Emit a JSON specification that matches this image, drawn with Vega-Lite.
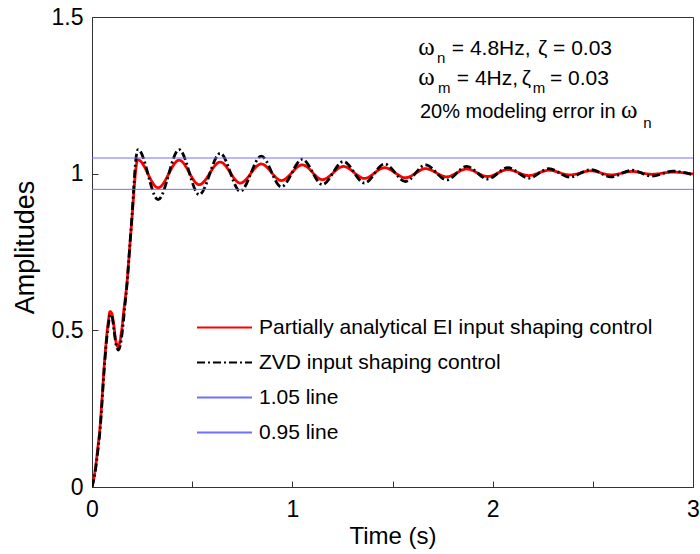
{
  "$schema": "https://vega.github.io/schema/vega-lite/v6.json",
  "width": 601,
  "height": 470,
  "autosize": {"type": "none"},
  "padding": {"left": 92, "top": 17, "right": 7, "bottom": 67},
  "background": "white",
  "config": {
    "font": "Liberation Sans",
    "view": {"stroke": "#333333", "strokeWidth": 1},
    "axis": {
      "grid": false,
      "domainColor": "#333333",
      "tickColor": "#333333",
      "labelColor": "#000000",
      "titleColor": "#000000",
      "labelFont": "Liberation Sans",
      "titleFont": "Liberation Sans",
      "titleFontWeight": "normal",
      "labelFontSize": 23,
      "tickSize": -6
    }
  },
  "layer": [
    {
      "data": {
        "values": [
          {"t": 0, "v": 0, "s": "Partially analytical EI input shaping control"},
          {"t": 0.015, "v": 0.05, "s": "Partially analytical EI input shaping control"},
          {"t": 0.03, "v": 0.13, "s": "Partially analytical EI input shaping control"},
          {"t": 0.04, "v": 0.19, "s": "Partially analytical EI input shaping control"},
          {"t": 0.05, "v": 0.28, "s": "Partially analytical EI input shaping control"},
          {"t": 0.057, "v": 0.35, "s": "Partially analytical EI input shaping control"},
          {"t": 0.065, "v": 0.42, "s": "Partially analytical EI input shaping control"},
          {"t": 0.073, "v": 0.48, "s": "Partially analytical EI input shaping control"},
          {"t": 0.082, "v": 0.53, "s": "Partially analytical EI input shaping control"},
          {"t": 0.09, "v": 0.56, "s": "Partially analytical EI input shaping control"},
          {"t": 0.098, "v": 0.555, "s": "Partially analytical EI input shaping control"},
          {"t": 0.108, "v": 0.52, "s": "Partially analytical EI input shaping control"},
          {"t": 0.118, "v": 0.47, "s": "Partially analytical EI input shaping control"},
          {"t": 0.128, "v": 0.448, "s": "Partially analytical EI input shaping control"},
          {"t": 0.138, "v": 0.46, "s": "Partially analytical EI input shaping control"},
          {"t": 0.148, "v": 0.5, "s": "Partially analytical EI input shaping control"},
          {"t": 0.16, "v": 0.57, "s": "Partially analytical EI input shaping control"},
          {"t": 0.173, "v": 0.64, "s": "Partially analytical EI input shaping control"},
          {"t": 0.19, "v": 0.78, "s": "Partially analytical EI input shaping control"},
          {"t": 0.2, "v": 0.86, "s": "Partially analytical EI input shaping control"},
          {"t": 0.21, "v": 0.95, "s": "Partially analytical EI input shaping control"},
          {"t": 0.218, "v": 1.01, "s": "Partially analytical EI input shaping control"},
          {"t": 0.228, "v": 1.045, "s": "Partially analytical EI input shaping control"},
          {"t": 0.33, "v": 0.955, "s": "Partially analytical EI input shaping control"},
          {"t": 0.435, "v": 1.043, "s": "Partially analytical EI input shaping control"},
          {"t": 0.535, "v": 0.965, "s": "Partially analytical EI input shaping control"},
          {"t": 0.64, "v": 1.037, "s": "Partially analytical EI input shaping control"},
          {"t": 0.74, "v": 0.97, "s": "Partially analytical EI input shaping control"},
          {"t": 0.845, "v": 1.031, "s": "Partially analytical EI input shaping control"},
          {"t": 0.945, "v": 0.978, "s": "Partially analytical EI input shaping control"},
          {"t": 1.05, "v": 1.028, "s": "Partially analytical EI input shaping control"},
          {"t": 1.15, "v": 0.981, "s": "Partially analytical EI input shaping control"},
          {"t": 1.255, "v": 1.023, "s": "Partially analytical EI input shaping control"},
          {"t": 1.36, "v": 0.985, "s": "Partially analytical EI input shaping control"},
          {"t": 1.46, "v": 1.019, "s": "Partially analytical EI input shaping control"},
          {"t": 1.565, "v": 0.987, "s": "Partially analytical EI input shaping control"},
          {"t": 1.665, "v": 1.016, "s": "Partially analytical EI input shaping control"},
          {"t": 1.77, "v": 0.99, "s": "Partially analytical EI input shaping control"},
          {"t": 1.87, "v": 1.015, "s": "Partially analytical EI input shaping control"},
          {"t": 1.975, "v": 0.991, "s": "Partially analytical EI input shaping control"},
          {"t": 2.075, "v": 1.013, "s": "Partially analytical EI input shaping control"},
          {"t": 2.18, "v": 0.994, "s": "Partially analytical EI input shaping control"},
          {"t": 2.28, "v": 1.011, "s": "Partially analytical EI input shaping control"},
          {"t": 2.385, "v": 0.996, "s": "Partially analytical EI input shaping control"},
          {"t": 2.49, "v": 1.009, "s": "Partially analytical EI input shaping control"},
          {"t": 2.59, "v": 0.996, "s": "Partially analytical EI input shaping control"},
          {"t": 2.695, "v": 1.007, "s": "Partially analytical EI input shaping control"},
          {"t": 2.795, "v": 0.998, "s": "Partially analytical EI input shaping control"},
          {"t": 2.9, "v": 1.005, "s": "Partially analytical EI input shaping control"},
          {"t": 3.0, "v": 0.999, "s": "Partially analytical EI input shaping control"},

          {"t": 0, "v": 0, "s": "ZVD input shaping control"},
          {"t": 0.015, "v": 0.045, "s": "ZVD input shaping control"},
          {"t": 0.03, "v": 0.12, "s": "ZVD input shaping control"},
          {"t": 0.04, "v": 0.18, "s": "ZVD input shaping control"},
          {"t": 0.05, "v": 0.27, "s": "ZVD input shaping control"},
          {"t": 0.057, "v": 0.34, "s": "ZVD input shaping control"},
          {"t": 0.065, "v": 0.41, "s": "ZVD input shaping control"},
          {"t": 0.073, "v": 0.47, "s": "ZVD input shaping control"},
          {"t": 0.082, "v": 0.52, "s": "ZVD input shaping control"},
          {"t": 0.092, "v": 0.55, "s": "ZVD input shaping control"},
          {"t": 0.1, "v": 0.545, "s": "ZVD input shaping control"},
          {"t": 0.11, "v": 0.5, "s": "ZVD input shaping control"},
          {"t": 0.12, "v": 0.455, "s": "ZVD input shaping control"},
          {"t": 0.132, "v": 0.437, "s": "ZVD input shaping control"},
          {"t": 0.142, "v": 0.455, "s": "ZVD input shaping control"},
          {"t": 0.152, "v": 0.5, "s": "ZVD input shaping control"},
          {"t": 0.163, "v": 0.57, "s": "ZVD input shaping control"},
          {"t": 0.175, "v": 0.65, "s": "ZVD input shaping control"},
          {"t": 0.19, "v": 0.78, "s": "ZVD input shaping control"},
          {"t": 0.2, "v": 0.87, "s": "ZVD input shaping control"},
          {"t": 0.21, "v": 0.97, "s": "ZVD input shaping control"},
          {"t": 0.218, "v": 1.04, "s": "ZVD input shaping control"},
          {"t": 0.23, "v": 1.077, "s": "ZVD input shaping control"},
          {"t": 0.33, "v": 0.917, "s": "ZVD input shaping control"},
          {"t": 0.435, "v": 1.077, "s": "ZVD input shaping control"},
          {"t": 0.535, "v": 0.933, "s": "ZVD input shaping control"},
          {"t": 0.64, "v": 1.065, "s": "ZVD input shaping control"},
          {"t": 0.74, "v": 0.944, "s": "ZVD input shaping control"},
          {"t": 0.845, "v": 1.056, "s": "ZVD input shaping control"},
          {"t": 0.945, "v": 0.958, "s": "ZVD input shaping control"},
          {"t": 1.05, "v": 1.046, "s": "ZVD input shaping control"},
          {"t": 1.15, "v": 0.965, "s": "ZVD input shaping control"},
          {"t": 1.255, "v": 1.039, "s": "ZVD input shaping control"},
          {"t": 1.36, "v": 0.97, "s": "ZVD input shaping control"},
          {"t": 1.46, "v": 1.031, "s": "ZVD input shaping control"},
          {"t": 1.565, "v": 0.975, "s": "ZVD input shaping control"},
          {"t": 1.665, "v": 1.028, "s": "ZVD input shaping control"},
          {"t": 1.77, "v": 0.98, "s": "ZVD input shaping control"},
          {"t": 1.87, "v": 1.023, "s": "ZVD input shaping control"},
          {"t": 1.975, "v": 0.983, "s": "ZVD input shaping control"},
          {"t": 2.075, "v": 1.019, "s": "ZVD input shaping control"},
          {"t": 2.18, "v": 0.986, "s": "ZVD input shaping control"},
          {"t": 2.28, "v": 1.016, "s": "ZVD input shaping control"},
          {"t": 2.385, "v": 0.989, "s": "ZVD input shaping control"},
          {"t": 2.49, "v": 1.013, "s": "ZVD input shaping control"},
          {"t": 2.59, "v": 0.99, "s": "ZVD input shaping control"},
          {"t": 2.695, "v": 1.011, "s": "ZVD input shaping control"},
          {"t": 2.795, "v": 0.992, "s": "ZVD input shaping control"},
          {"t": 2.9, "v": 1.008, "s": "ZVD input shaping control"},
          {"t": 3.0, "v": 0.996, "s": "ZVD input shaping control"}
        ]
      },
      "mark": {"type": "line", "interpolate": "monotone", "clip": true, "strokeWidth": 2.8},
      "encoding": {
        "x": {
          "field": "t",
          "type": "quantitative",
          "scale": {"domain": [0, 3], "nice": false},
          "axis": {
            "title": "Time (s)",
            "titleFontSize": 24,
            "titleBaseline": "alphabetic",
            "titleY": 56,
            "values": [0, 0.5, 1, 1.5, 2, 2.5, 3],
            "labelExpr": "datum.value % 1 === 0 ? format(datum.value, '~g') : ''",
            "labelPadding": 17,
            "labelFlush": false
          }
        },
        "y": {
          "field": "v",
          "type": "quantitative",
          "scale": {"domain": [0, 1.5], "nice": false},
          "axis": {
            "title": "Amplitudes",
            "titleFontSize": 27,
            "titleBaseline": "alphabetic",
            "titleX": -59,
            "titleY": 230,
            "values": [0, 0.5, 1, 1.5],
            "format": "~g",
            "labelPadding": 15,
            "labelFlush": false
          }
        },
        "color": {
          "field": "s",
          "type": "nominal",
          "scale": {
            "domain": ["Partially analytical EI input shaping control", "ZVD input shaping control", "1.05 line", "0.95 line"],
            "range": ["#ff0000", "#000000", "#7070ff", "#7070ff"]
          },
          "legend": {
            "title": null,
            "orient": "none",
            "legendX": 122,
            "legendY": 300,
            "padding": 0,
            "labelFont": "Liberation Sans",
            "labelFontSize": 21,
            "labelColor": "#000000",
            "labelLimit": 0,
            "labelOffset": 24,
            "rowPadding": 13,
            "symbolType": "M-5,0H5",
            "symbolSize": 121,
            "symbolStrokeWidth": 2
          }
        },
        "strokeDash": {
          "field": "s",
          "type": "nominal",
          "scale": {
            "domain": ["Partially analytical EI input shaping control", "ZVD input shaping control", "1.05 line", "0.95 line"],
            "range": [[1, 0], [8, 3, 2, 3], [1, 0], [1, 0]]
          }
        }
      }
    },
    {
      "data": {
        "values": [
          {"t": 0, "v": 1.05, "s": "1.05 line"},
          {"t": 3, "v": 1.05, "s": "1.05 line"},
          {"t": 0, "v": 0.95, "s": "0.95 line"},
          {"t": 3, "v": 0.95, "s": "0.95 line"}
        ]
      },
      "mark": {"type": "line", "clip": true, "strokeWidth": 1},
      "encoding": {
        "x": {"field": "t", "type": "quantitative"},
        "y": {"field": "v", "type": "quantitative"},
        "color": {
          "field": "s",
          "type": "nominal",
          "scale": {
            "domain": ["Partially analytical EI input shaping control", "ZVD input shaping control", "1.05 line", "0.95 line"],
            "range": ["#ff0000", "#000000", "#7070ff", "#7070ff"]
          }
        },
        "strokeDash": {
          "field": "s",
          "type": "nominal",
          "scale": {
            "domain": ["Partially analytical EI input shaping control", "ZVD input shaping control", "1.05 line", "0.95 line"],
            "range": [[1, 0], [8, 3, 2, 3], [1, 0], [1, 0]]
          }
        }
      }
    },
    {"data": {"values": [{}]}, "mark": {"type": "text", "text": "ω", "font": "Liberation Serif", "fontSize": 25, "align": "left", "baseline": "alphabetic"}, "encoding": {"x": {"datum": 1.629}, "y": {"datum": 1.379}}},
    {"data": {"values": [{}]}, "mark": {"type": "text", "text": "n", "fontSize": 15, "align": "left", "baseline": "alphabetic"}, "encoding": {"x": {"datum": 1.722}, "y": {"datum": 1.352}}},
    {"data": {"values": [{}]}, "mark": {"type": "text", "text": "= 4.8Hz,", "fontSize": 21, "align": "left", "baseline": "alphabetic"}, "encoding": {"x": {"datum": 1.796}, "y": {"datum": 1.379}}},
    {"data": {"values": [{}]}, "mark": {"type": "text", "text": "ζ = 0.03", "fontSize": 21, "align": "left", "baseline": "alphabetic"}, "encoding": {"x": {"datum": 2.226}, "y": {"datum": 1.379}}},
    {"data": {"values": [{}]}, "mark": {"type": "text", "text": "ω", "font": "Liberation Serif", "fontSize": 25, "align": "left", "baseline": "alphabetic"}, "encoding": {"x": {"datum": 1.629}, "y": {"datum": 1.283}}},
    {"data": {"values": [{}]}, "mark": {"type": "text", "text": "m", "fontSize": 15, "align": "left", "baseline": "alphabetic"}, "encoding": {"x": {"datum": 1.727}, "y": {"datum": 1.256}}},
    {"data": {"values": [{}]}, "mark": {"type": "text", "text": "= 4Hz,", "fontSize": 21, "align": "left", "baseline": "alphabetic"}, "encoding": {"x": {"datum": 1.821}, "y": {"datum": 1.283}}},
    {"data": {"values": [{}]}, "mark": {"type": "text", "text": "ζ", "fontSize": 21, "align": "left", "baseline": "alphabetic"}, "encoding": {"x": {"datum": 2.145}, "y": {"datum": 1.283}}},
    {"data": {"values": [{}]}, "mark": {"type": "text", "text": "m", "fontSize": 15, "align": "left", "baseline": "alphabetic"}, "encoding": {"x": {"datum": 2.2}, "y": {"datum": 1.256}}},
    {"data": {"values": [{}]}, "mark": {"type": "text", "text": "= 0.03", "fontSize": 21, "align": "left", "baseline": "alphabetic"}, "encoding": {"x": {"datum": 2.286}, "y": {"datum": 1.283}}},
    {"data": {"values": [{}]}, "mark": {"type": "text", "text": "20% modeling error in", "fontSize": 20, "align": "left", "baseline": "alphabetic"}, "encoding": {"x": {"datum": 1.637}, "y": {"datum": 1.177}}},
    {"data": {"values": [{}]}, "mark": {"type": "text", "text": "ω", "font": "Liberation Serif", "fontSize": 25, "align": "left", "baseline": "alphabetic"}, "encoding": {"x": {"datum": 2.64}, "y": {"datum": 1.177}}},
    {"data": {"values": [{}]}, "mark": {"type": "text", "text": "n", "fontSize": 15, "align": "left", "baseline": "alphabetic"}, "encoding": {"x": {"datum": 2.752}, "y": {"datum": 1.145}}}
  ]
}
